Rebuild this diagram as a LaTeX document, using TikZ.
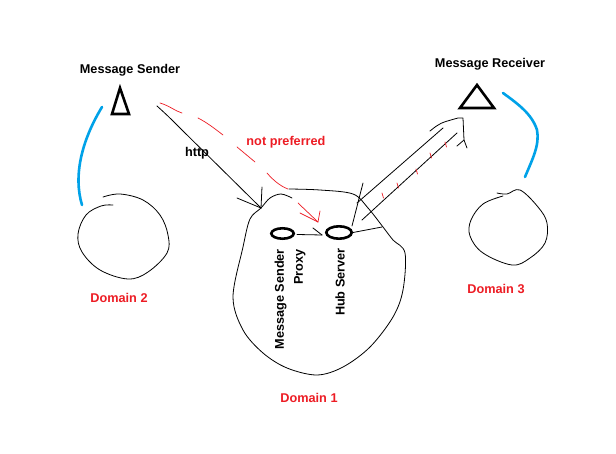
\documentclass[tikz,border=0pt]{standalone}
\usepackage{fontspec}
\setmainfont{Liberation Sans}
\usetikzlibrary{shapes.geometric}
\definecolor{pred}{RGB}{237,28,36}
\definecolor{pblue}{RGB}{0,162,232}
\begin{document}
\begin{tikzpicture}[x=1pt,y=-1pt,
  lbl/.style={font=\bfseries\fontsize{12.7}{14}\selectfont, inner sep=0pt},
  rlbl/.style={lbl, text=pred},
  sketch/.style={draw=black, line width=0.8pt, line cap=round, line join=round},
  thickline/.style={draw=black, line width=2.6pt, line join=miter},
  blueline/.style={draw=pblue, line width=2.6pt, line cap=round},
  redline/.style={draw=pred, line width=0.7pt, line cap=round, line join=round},
  port/.style={ellipse, draw, line width=2.6pt, inner sep=0pt}
]
\fill[white] (0,0) rectangle (616,454);
\useasboundingbox (0,0) rectangle (616,454);

% labels
\node[lbl] (sender) at (130,70) {Message Sender};
\node[lbl] (receiver) at (490,64) {Message Receiver};
\node[lbl] (http) at (197,153) {http};
\node[rlbl] (notpref) at (286,142) {not preferred};
\node[rlbl] (d2) at (119,298) {Domain 2};
\node[rlbl] (d1) at (309,398) {Domain 1};
\node[rlbl] (d3) at (496,289) {Domain 3};
\node[lbl, font=\bfseries\fontsize{12.7}{19}\selectfont, rotate=90, align=right, anchor=east] (proxytxt) at (290,249) {Message Sender\\Proxy};
\node[lbl, rotate=90, anchor=east] (hubtxt) at (340,248) {Hub Server};

% triangles
\draw[thickline] (120,88) -- (112,114) -- (129,114) -- cycle;
\draw[thickline] (477,85) -- (460,108) -- (494,108) -- cycle;

% blue arcs
\draw[blueline] (102,107) .. controls (82,140) and (73,175) .. (82,205);
\draw[blueline] (503,93) .. controls (518,104) and (532,114) .. (537,130) .. controls (540,145) and (532,160) .. (525,177);

% domain 2
\draw[sketch] plot[smooth, tension=0.6] coordinates {(103,197) (120,194) (143,200) (160,215) (168,235) (167,253) (148,272) (128,279) (100,270) (82,252) (78,234) (86,215) (101,206) (113,205)};
% domain 3
\draw[sketch] plot[smooth, tension=0.6] coordinates {(497,193) (507,194) (520,190) (538,207) (547,223) (545,243) (530,258) (512,265) (483,253) (470,236) (471,220) (483,204) (503,196)};
% domain 1
\draw[sketch] plot[smooth, tension=0.55] coordinates {(292,198) (281,194) (270,198) (261,208) (250,219) (243,247) (233,297) (243,330) (263,353) (287,368) (317,375) (343,367) (370,347) (393,317) (403,290) (405,253) (393,240) (383,227) (368,208) (353,194) (320,190) (289,189)};

% ports
\node[port, minimum width=22.4pt, minimum height=10.4pt] (proxy) at (282.5,233.5) {};
\node[port, minimum width=25.4pt, minimum height=12.4pt] (hub) at (339,232.5) {};

% proxy -> hub
\coordinate (ph) at (322,235);
\draw[sketch] (proxy.east) ++(2,1) -- (ph);
\draw[sketch] (313,228) -- (ph);
% hub right line
\draw[sketch] (hub.east) -- (382,227);

% http arrow
\coordinate (httpS) at (157,106);
\coordinate (httpT) at (261,208);
\draw[sketch] (httpS) .. controls (168,116) .. (182,130) -- (httpT);
\draw[sketch] (262,187) -- (httpT);
\draw[sketch] (237,198) -- (httpT);

% not preferred (red dashed)
\draw[redline] (160,103) .. controls (170,106) and (175,111) .. (182,113);
\draw[redline] (198,118) .. controls (206,122) and (214,128) .. (223,135);
\draw[redline] (237,147) .. controls (243,152) and (249,157) .. (255,162);
\draw[redline] (267,173) .. controls (273,180) and (280,186) .. (288,189);
\coordinate (redT) at (318,222);
\draw[redline] (298,203) -- (redT);
\draw[redline] (300,213) -- (redT);
\draw[redline] (320,211) -- (redT);

% double arrow hub -> receiver
\draw[sketch] (352,226) -- (363,183);
\draw[sketch] (357,203) -- (443,128);
\draw[sketch] (362,220) -- (457,133);
\draw[sketch] (430,131) .. controls (440,123) .. (458,118) -- (463,118) -- (464,140) -- (457,146);
\draw[sketch] (464,140) -- (467,148);
% red ticks
\foreach \p in {(382,193),(397,183),(416,169),(430,153),(445,142)}
  \draw[redline] \p -- ++(1.5,5);
\end{tikzpicture}
\end{document}
